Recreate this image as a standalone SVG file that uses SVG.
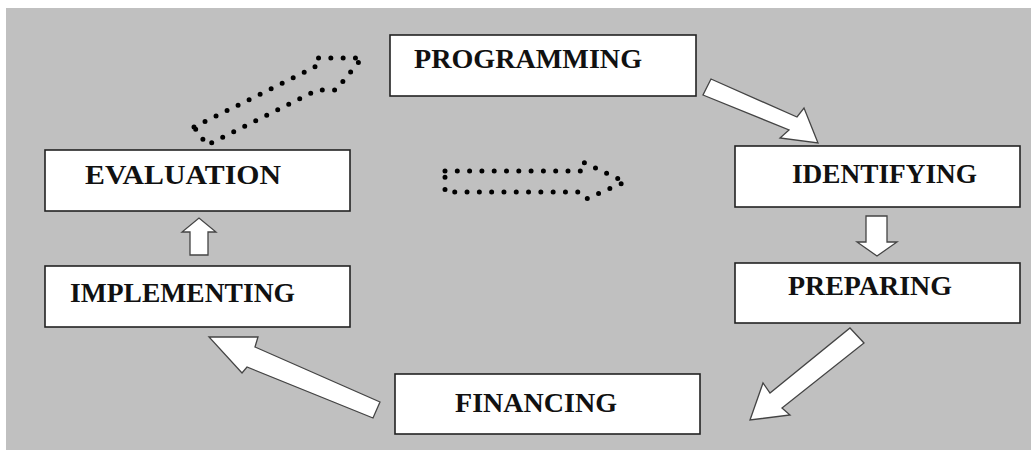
<svg xmlns="http://www.w3.org/2000/svg" width="1033" height="450" viewBox="0 0 1033 450">
<style>
.box{fill:#fff;stroke:#222;stroke-width:1.6}
.lbl{font-family:"Liberation Serif","Times New Roman",serif;font-weight:bold;font-size:28px;fill:#111}
.arr{fill:#fff;stroke:#444;stroke-width:1.3;stroke-linejoin:miter}
.dot{fill:none;stroke:#000;stroke-width:5;stroke-linecap:round;stroke-dasharray:0 12.3}
</style>
<rect x="0" y="0" width="1033" height="450" fill="#fff"/>
<rect x="6" y="8" width="1025" height="442" fill="#c0c0c0"/>
<g id="connectors">
<polygon class="dot" points="194,127 315,67 315,58 362,58 336,90 317,90 207,145"/>
<polygon class="dot" points="445,171 582,171 583,162 625,182 586,199 578,192 445,192"/>
<polygon class="arr" points="711,79 797,117 804,108 818,143 780,138 789,130 703,95"/>
<polygon class="arr" points="866,216 887,216 887,242 897,242 877,256 857,242 866,242"/>
<polygon class="arr" points="190,255 208,255 208,232 216,232 199,218 182,232 190,232"/>
<polygon class="arr" points="850,328 864,343 782,408 790,415 750,420 763,383 770,393"/>
<polygon class="arr" points="380,402 373,418 247,367 242,373 209,337 258,337 255,347"/>
</g>
<g id="programming"><rect class="box" x="390" y="35" width="306" height="61"/><text class="lbl" x="414" y="68" textLength="228" lengthAdjust="spacingAndGlyphs">PROGRAMMING</text></g>
<g id="identifying"><rect class="box" x="735" y="146" width="285" height="61"/><text class="lbl" x="792" y="183" textLength="185" lengthAdjust="spacingAndGlyphs">IDENTIFYING</text></g>
<g id="preparing"><rect class="box" x="735" y="263" width="285" height="60"/><text class="lbl" x="788" y="295" textLength="164" lengthAdjust="spacingAndGlyphs">PREPARING</text></g>
<g id="evaluation"><rect class="box" x="45" y="150" width="305" height="61"/><text class="lbl" x="85" y="184" textLength="196" lengthAdjust="spacingAndGlyphs">EVALUATION</text></g>
<g id="implementing"><rect class="box" x="45" y="266" width="305" height="61"/><text class="lbl" x="70" y="302" textLength="225" lengthAdjust="spacingAndGlyphs">IMPLEMENTING</text></g>
<g id="financing"><rect class="box" x="395" y="374" width="305" height="60"/><text class="lbl" x="455" y="412" textLength="162" lengthAdjust="spacingAndGlyphs">FINANCING</text></g>
</svg>
